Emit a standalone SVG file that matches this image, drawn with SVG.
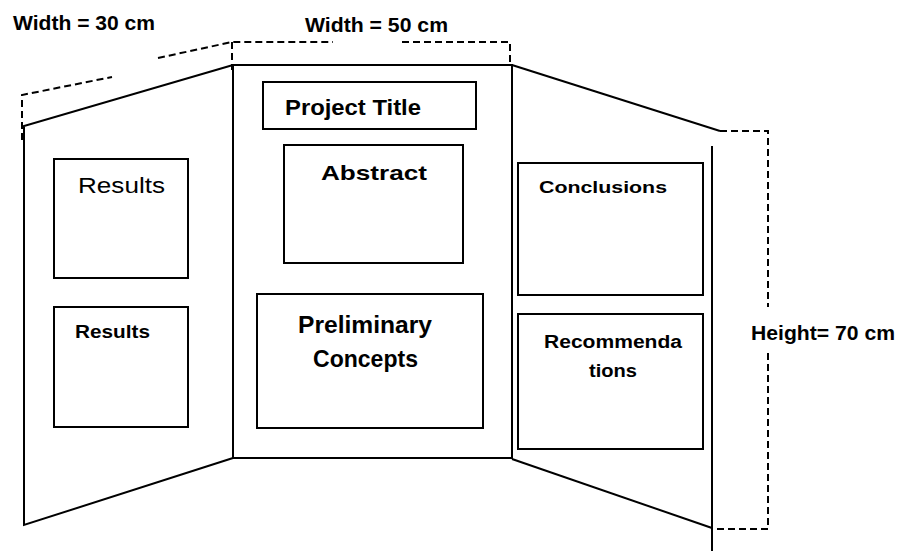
<svg xmlns="http://www.w3.org/2000/svg" width="901" height="551" viewBox="0 0 901 551">
  <style>
    .panel { fill: none; stroke: #000; stroke-width: 2; stroke-linejoin: miter; }
    .box { fill: none; stroke: #000; stroke-width: 2; }
    .dim { fill: none; stroke: #000; stroke-width: 2; stroke-dasharray: 7 4; }
    text { font-family: "Liberation Sans", Arial, sans-serif; fill: #000; }
    .b { font-weight: bold; }
  </style>
  <rect width="901" height="551" fill="#fff"/>

  <!-- tri-fold board outline -->
  <g id="board">
    <polyline class="panel" points="233,458 24,525 24,126 233,65"/>
    <rect class="panel" x="233" y="65" width="279" height="393"/>
    <line class="panel" x1="512" y1="65" x2="720" y2="131"/>
    <line class="panel" x1="512" y1="459" x2="712" y2="528"/>
    <line class="panel" x1="712" y1="146" x2="712" y2="551"/>
  </g>

  <!-- dimension guides -->
  <g id="dimensions">
    <polyline class="dim" points="22,140 22,95 112,77"/>
    <polyline class="dim" points="158,58 232,42 333,42"/>
    <line class="dim" x1="232" y1="42" x2="232" y2="70"/>
    <polyline class="dim" points="402,42 510,42 510,66"/>
    <polyline class="dim" points="720,131 768,131 768,307"/>
    <polyline class="dim" points="768,353 768,529 712,529"/>
    <text class="b" x="13" y="30" font-size="20" textLength="142" lengthAdjust="spacingAndGlyphs">Width = 30 cm</text>
    <text class="b" x="305" y="32" font-size="20" textLength="143" lengthAdjust="spacingAndGlyphs">Width = 50 cm</text>
    <text class="b" x="751" y="340" font-size="21" textLength="144" lengthAdjust="spacingAndGlyphs">Height= 70 cm</text>
  </g>

  <!-- left panel -->
  <g id="results-1">
    <rect class="box" x="54" y="159" width="134" height="119"/>
    <text x="78" y="193" font-size="22" textLength="87" lengthAdjust="spacingAndGlyphs">Results</text>
  </g>
  <g id="results-2">
    <rect class="box" x="54" y="307" width="134" height="120"/>
    <text class="b" x="75" y="338" font-size="18" textLength="75" lengthAdjust="spacingAndGlyphs">Results</text>
  </g>

  <!-- centre panel -->
  <g id="project-title">
    <rect class="box" x="263" y="82" width="213" height="47"/>
    <text class="b" x="285" y="115" font-size="22" textLength="136" lengthAdjust="spacingAndGlyphs">Project Title</text>
  </g>
  <g id="abstract">
    <rect class="box" x="284" y="145" width="179" height="118"/>
    <text class="b" x="321" y="180" font-size="21" textLength="106" lengthAdjust="spacingAndGlyphs">Abstract</text>
  </g>
  <g id="preliminary-concepts">
    <rect class="box" x="257" y="294" width="226" height="134"/>
    <text class="b" x="298" y="333" font-size="24" textLength="134" lengthAdjust="spacingAndGlyphs">Preliminary</text>
    <text class="b" x="313" y="367" font-size="24" textLength="105" lengthAdjust="spacingAndGlyphs">Concepts</text>
  </g>

  <!-- right panel -->
  <g id="conclusions">
    <rect class="box" x="518" y="163" width="185" height="132"/>
    <text class="b" x="539" y="193" font-size="17" textLength="128" lengthAdjust="spacingAndGlyphs">Conclusions</text>
  </g>
  <g id="recommendations">
    <rect class="box" x="518" y="314" width="185" height="135"/>
    <text class="b" x="544" y="348" font-size="18" textLength="138" lengthAdjust="spacingAndGlyphs">Recommenda</text>
    <text class="b" x="589" y="377" font-size="18" textLength="48" lengthAdjust="spacingAndGlyphs">tions</text>
  </g>
</svg>
